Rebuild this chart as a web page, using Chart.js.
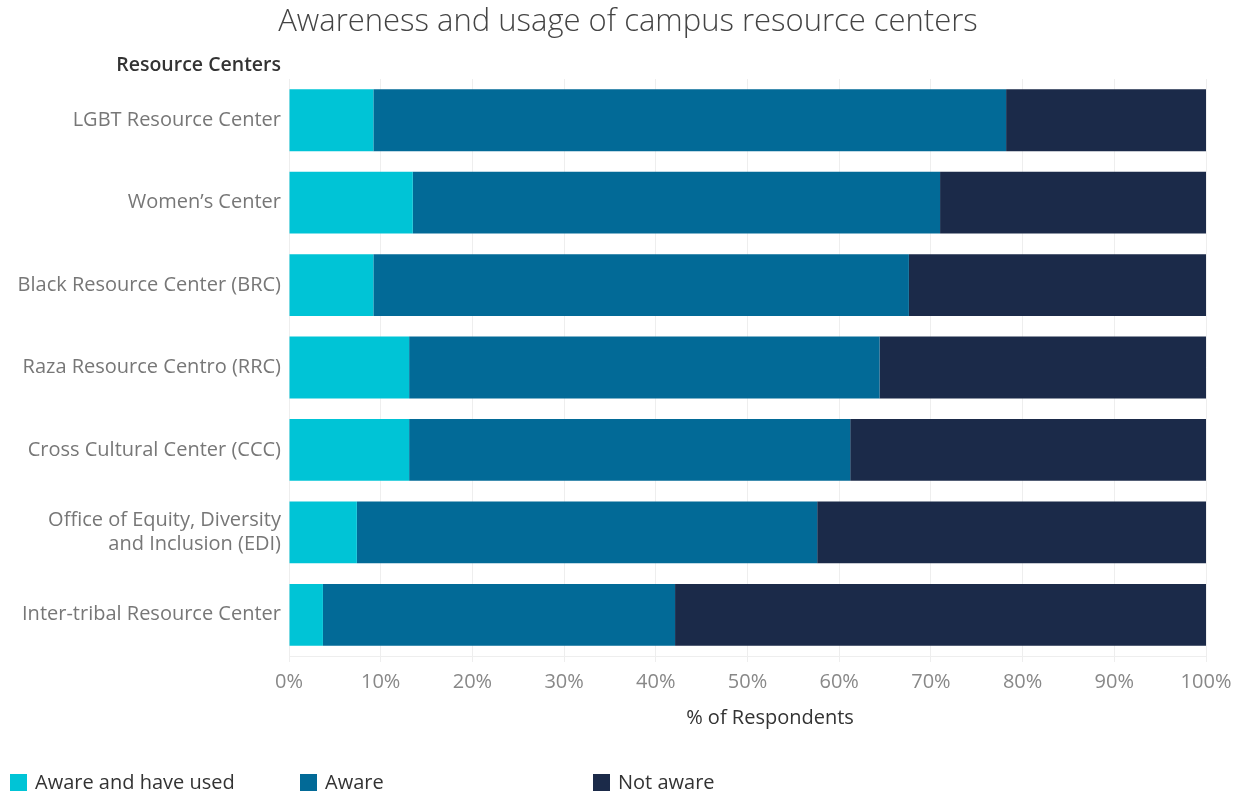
<!DOCTYPE html>
<html>
<head>
<meta charset="utf-8">
<script src="https://cdn.jsdelivr.net/npm/chart.js@4.4.1/dist/chart.umd.min.js"></script>
<style>
  body { margin: 0; background: #fff; font-family: 'Open Sans', sans-serif; }
  #wrap { position: relative; width: 1249px; height: 796px; }
  .legend { position: absolute; top: 769px; left: 0; width: 1249px; height: 26px; }
  .item { position: absolute; top: 0; font-size: 20px; color: #333; line-height: 26px; }
  .item span { display: inline-block; width: 17px; height: 17px; vertical-align: -2px; margin-right: 8px; }
</style>
</head>
<body>
<div id="wrap">
  <canvas id="chart" width="1249" height="796"></canvas>
  <div class="legend" id="legend"></div>
</div>
<script>
const centers = [
  'LGBT Resource Center',
  'Women\u2019s Center',
  'Black Resource Center (BRC)',
  'Raza Resource Centro (RRC)',
  'Cross Cultural Center (CCC)',
  ['Office of Equity, Diversity', 'and Inclusion (EDI)'],
  'Inter-tribal Resource Center'
]
const awareUsed = [9.2, 13.5, 9.2, 13.1, 13.1, 7.4, 3.7]
const aware = [69.0, 57.5, 58.4, 51.3, 48.1, 50.2, 38.4]
const notAware = [21.8, 29.0, 32.4, 35.6, 38.8, 42.4, 57.9]
const seriesNames = ['Aware and have used', 'Aware', 'Not aware']
const colors = ['#00C4D6', '#026A97', '#1B2A49']
const FONT = "'Open Sans'"

const legendX = [10, 300, 593]
const legend = document.getElementById('legend')
seriesNames.forEach((name, i) => {
  const el = document.createElement('div')
  el.className = 'item'
  el.style.left = legendX[i] + 'px'
  el.innerHTML = '<span style="background:' + colors[i] + '"></span>' + name
  legend.appendChild(el)
})

// title, header over the category labels and the x axis title
const extraText = {
  id: 'extraText',
  afterDraw(chart) {
    const c = chart.ctx
    const area = chart.chartArea
    c.save()
    c.textBaseline = 'middle'
    c.textAlign = 'center'
    c.fillStyle = '#444'
    c.font = '300 31px ' + FONT
    c.fillText('Awareness and usage of campus resource centers', 628, 22)
    c.fillStyle = '#333'
    c.font = '600 19.5px ' + FONT
    c.textAlign = 'right'
    c.fillText('Resource Centers', area.left - 8, 65)
    c.textAlign = 'center'
    c.font = '20px ' + FONT
    c.fillText('% of Respondents', 770, 718)
    c.restore()
  }
}

const ctx = document.getElementById('chart').getContext('2d')
new Chart(ctx, {
  type: 'bar',
  data: {
    labels: centers,
    datasets: [
      { label: seriesNames[0], data: awareUsed, backgroundColor: colors[0] },
      { label: seriesNames[1], data: aware, backgroundColor: colors[1] },
      { label: seriesNames[2], data: notAware, backgroundColor: colors[2] }
    ]
  },
  options: {
    indexAxis: 'y',
    responsive: false,
    animation: false,
    barPercentage: 0.75,
    categoryPercentage: 1,
    layout: { padding: { left: 0, right: 43, top: 79, bottom: 70 } },
    plugins: {
      legend: { display: false },
      tooltip: { enabled: false },
      title: { display: false }
    },
    scales: {
      x: {
        stacked: true,
        min: 0,
        max: 100,
        afterFit(scale) { scale.height = 70 },
        ticks: {
          stepSize: 10,
          color: '#888',
          font: { family: FONT, size: 20 },
          padding: 8,
          callback: v => v + '%'
        },
        grid: { color: '#eeeeee', tickLength: 6 },
        border: { color: '#eeeeee' }
      },
      y: {
        stacked: true,
        afterFit(scale) { scale.width = 289 },
        ticks: {
          color: '#777',
          font: { family: FONT, size: 20 },
          padding: 0
        },
        grid: { display: false },
        border: { color: '#eeeeee' }
      }
    }
  },
  plugins: [extraText]
})
</script>
</body>
</html>
